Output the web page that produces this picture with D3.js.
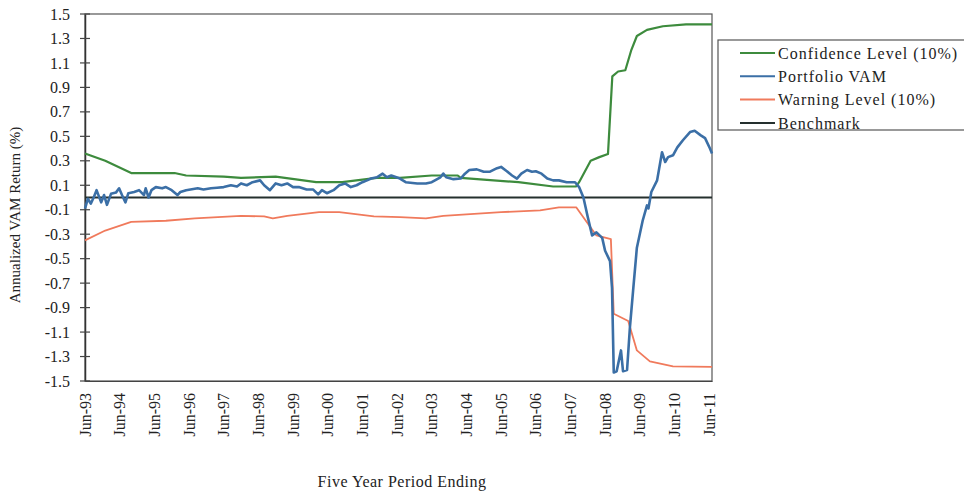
<!DOCTYPE html>
<html><head><meta charset="utf-8">
<script src="https://cdn.jsdelivr.net/npm/d3@7"></script>
<style>
body{margin:0;background:#fff}
text{font-family:"Liberation Serif","Times New Roman",serif;fill:#222}
</style></head>
<body><svg id="c" width="964" height="491"></svg>
<script>
// months after Jun-1993
const xTickMonths = [0,12,24,36,48,60,72,84,96,108,120,132,144,156,168,180,192,204,216];
const xTickLabels = ["Jun-93","Jun-94","Jun-95","Jun-96","Jun-97","Jun-98","Jun-99","Jun-00","Jun-01","Jun-02","Jun-03","Jun-04","Jun-05","Jun-06","Jun-07","Jun-08","Jun-09","Jun-10","Jun-11"];
const yTicks = [-1.5,-1.3,-1.1,-0.9,-0.7,-0.5,-0.3,-0.1,0.1,0.3,0.5,0.7,0.9,1.1,1.3,1.5];

const confMonths = [0,7,16,31,35,48,54,66,80,89,101,109,120,129,130,150,162,170,171,175,178,181,182.5,184.5,187,189,191,194.5,200,208,217];
const confValues = [0.36,0.30,0.20,0.20,0.18,0.17,0.16,0.17,0.125,0.125,0.16,0.16,0.18,0.18,0.16,0.125,0.09,0.09,0.125,0.30,0.33,0.355,0.99,1.03,1.04,1.20,1.32,1.37,1.40,1.415,1.415];

const warnMonths = [0,7,16,28,38,54,62,65,70,81,88,100,109,118,124,144,157.5,164,170,175,177,182,183,188,191,195.5,203.5,217];
const warnValues = [-0.35,-0.27,-0.20,-0.19,-0.17,-0.15,-0.155,-0.17,-0.15,-0.12,-0.12,-0.155,-0.16,-0.17,-0.15,-0.12,-0.105,-0.08,-0.08,-0.245,-0.31,-0.34,-0.95,-1.01,-1.25,-1.34,-1.38,-1.385];

const portMonths = [0,1,2,3,4,5.6,6.6,7.6,9,10.7,11.8,12.8,14,15,17,18.7,20.4,21,22,23,24.5,26.7,28,30,32,33,35,39,41,43.6,45.7,48,50.5,52.6,54,56,58,60.6,62,64,66,68,70,72,74,76.7,79,80.7,82,83.7,86,88,90,92,94,96,97.6,99,101,103,104.5,106,109,111,115,118,120,123,124,125,127.5,130,131.5,133,135.6,138,140,142.6,144,146,147.8,149.5,151,153,154.7,156,158,160,162,164,166.7,169.6,171,172.5,174,175.5,177,179,180,181.7,182.4,183,184,185.5,186.2,187.6,188.6,189.7,191,193,194.5,195,196,198,199.7,200.8,201.8,203.5,205,207,209.4,211,213,214.6,216.3,217];
const portValues = [-0.09,-0.01,-0.05,0.0,0.06,-0.04,0.02,-0.06,0.03,0.04,0.075,0.02,-0.04,0.035,0.045,0.06,0.02,0.075,0.0,0.06,0.085,0.075,0.085,0.06,0.02,0.045,0.06,0.075,0.065,0.075,0.08,0.085,0.10,0.09,0.115,0.10,0.125,0.14,0.10,0.06,0.115,0.10,0.115,0.085,0.085,0.065,0.065,0.025,0.06,0.035,0.06,0.10,0.115,0.085,0.10,0.125,0.14,0.155,0.165,0.195,0.165,0.18,0.155,0.125,0.115,0.115,0.125,0.165,0.195,0.165,0.15,0.155,0.195,0.225,0.23,0.21,0.21,0.24,0.25,0.215,0.18,0.155,0.195,0.225,0.21,0.215,0.195,0.155,0.14,0.14,0.125,0.125,0.085,0.0,-0.16,-0.31,-0.285,-0.33,-0.435,-0.52,-0.74,-1.43,-1.42,-1.25,-1.42,-1.41,-1.06,-0.76,-0.41,-0.19,-0.065,-0.09,0.045,0.14,0.37,0.29,0.33,0.345,0.41,0.47,0.535,0.545,0.51,0.485,0.40,0.36];

const benchMonths = [0,217];
const benchValues = [0,0];

const seriesNames = ["Confidence Level (10%)","Portfolio VAM","Warning Level (10%)","Benchmark"];
const seriesColors = ["#3d8b3d","#3b6fa6","#f07a5c","#25302e"];

const svg = d3.select("#c");
const L=85,R=712,T=14,B=381;
const x = d3.scaleLinear().domain([0,217]).range([L,R]);
const y = d3.scaleLinear().domain([-1.5,1.5]).range([B,T]);

// frame
svg.append("rect").attr("x",L).attr("y",T).attr("width",R-L).attr("height",B-T)
  .attr("fill","none").attr("stroke","#555").attr("stroke-width",1.2);

// y axis
const ya = svg.append("g").attr("transform",`translate(${L},0)`)
  .call(d3.axisLeft(y).tickValues(yTicks).tickFormat(d=>d.toFixed(1)).tickSize(0).tickPadding(15));
ya.select(".domain").attr("stroke","#333").attr("stroke-width",1.5);
ya.selectAll("text").style("font-size","16px").attr("fill","#222");
svg.append("g").selectAll("line").data(yTicks).join("line")
  .attr("x1",L-5).attr("x2",L+5).attr("y1",d=>y(d)).attr("y2",d=>y(d))
  .attr("stroke","#444").attr("stroke-width",1.2);

// x axis
const xa = svg.append("g").attr("transform",`translate(0,${B})`)
  .call(d3.axisBottom(x).tickValues(xTickMonths).tickFormat((d,i)=>xTickLabels[i]).tickSize(0));
xa.select(".domain").attr("stroke","#444").attr("stroke-width",1.2);
xa.selectAll("text").style("font-size","16px").attr("fill","#222")
  .attr("transform","rotate(-90)").attr("text-anchor","end")
  .attr("x",-12).attr("y",0).attr("dy","0.32em");

// lines
const line = d3.line().x(d=>x(d[0])).y(d=>y(d[1]));
const pairs = (m,v)=>m.map((d,i)=>[d,v[i]]);
const draw = (m,v,c,w)=>svg.append("path").datum(pairs(m,v)).attr("d",line)
  .attr("fill","none").attr("stroke",c).attr("stroke-width",w).attr("stroke-linejoin","round");
draw(warnMonths,warnValues,seriesColors[2],1.8);
draw(confMonths,confValues,seriesColors[0],2.2);
draw(benchMonths,benchValues,seriesColors[3],2.2);
draw(portMonths,portValues,seriesColors[1],2.6);

// axis titles
svg.append("text").attr("transform","translate(20,215) rotate(-90)").attr("text-anchor","middle")
  .style("font-size","15px").text("Annualized VAM Return (%)");
svg.append("text").attr("x",402).attr("y",487).attr("text-anchor","middle")
  .style("font-size","16px").style("letter-spacing","0.5px").text("Five Year Period Ending");

// legend
const lg = svg.append("g");
lg.append("rect").attr("x",718).attr("y",40).attr("width",260).attr("height",90)
  .attr("fill","#fff").attr("stroke","#555").attr("stroke-width",1.2);
seriesNames.forEach((n,i)=>{
  const yy = 53 + i*23.3;
  lg.append("line").attr("x1",740).attr("x2",775).attr("y1",yy).attr("y2",yy)
    .attr("stroke",seriesColors[i]).attr("stroke-width",2);
  lg.append("text").attr("x",778).attr("y",yy).attr("dy","0.35em")
    .style("font-size","16px").style("letter-spacing","1px").text(n);
});
</script></body></html>
